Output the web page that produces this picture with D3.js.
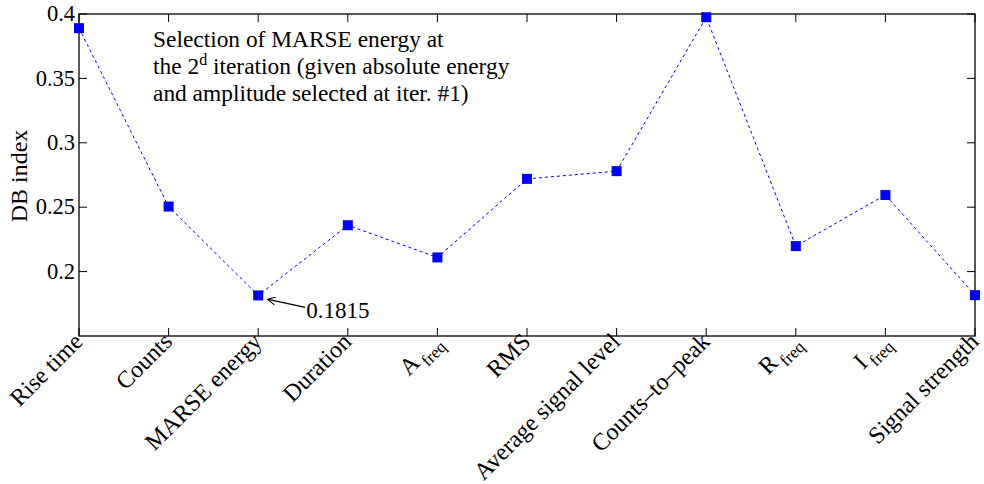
<!DOCTYPE html>
<html>
<head>
<meta charset="utf-8">
<script src="https://cdn.jsdelivr.net/npm/d3@7"></script>
<style>
  body { margin: 0; background: #fff; }
  text { font-family: "Liberation Serif", "Times New Roman", serif; fill: #000; }
</style>
</head>
<body>
<svg id="chart"></svg>
<script>
var width = 984, height = 484;

// feature names (subscript part kept separate)
var features = ['Rise time', 'Counts', 'MARSE energy', 'Duration', 'A', 'RMS',
    'Average signal level', 'Counts\u2013to\u2013peak', 'R', 'I', 'Signal strength'];
var featureSubs = ['', '', '', '', 'freq', '', '', '', 'freq', 'freq', ''];
var dbIndex = [0.389, 0.2505, 0.1815, 0.236, 0.211, 0.272, 0.278, 0.3975, 0.2198, 0.2595, 0.1817];
var yTicks = [0.2, 0.25, 0.3, 0.35, 0.4];

var margin = { left: 79, right: 9, top: 14, bottom: 148 };
var plotW = width - margin.left - margin.right;
var plotH = height - margin.top - margin.bottom;

var svg = d3.select('#chart')
    .attr('width', width)
    .attr('height', height);

var g = svg.append('g')
    .attr('transform', 'translate(' + margin.left + ',' + margin.top + ')');

var x = d3.scalePoint()
    .domain(d3.range(features.length))
    .range([0, plotW]);

var y = d3.scaleLinear()
    .domain([0.15, 0.4])
    .range([plotH, 0]);

// frame
g.append('rect')
    .attr('width', plotW)
    .attr('height', plotH)
    .attr('fill', 'none')
    .attr('stroke', '#000')
    .attr('stroke-width', 1.3);

// inward ticks, mirrored on top / right
var tickLen = 8;
g.append('g').selectAll('line')
    .data(d3.range(features.length))
    .enter().append('line')
    .attr('x1', function (d) { return x(d); })
    .attr('x2', function (d) { return x(d); })
    .attr('y1', plotH)
    .attr('y2', plotH - tickLen)
    .attr('stroke', '#000');
g.append('g').selectAll('line')
    .data(d3.range(features.length))
    .enter().append('line')
    .attr('x1', function (d) { return x(d); })
    .attr('x2', function (d) { return x(d); })
    .attr('y1', 0)
    .attr('y2', tickLen)
    .attr('stroke', '#000');
g.append('g').selectAll('line')
    .data(yTicks)
    .enter().append('line')
    .attr('x1', 0)
    .attr('x2', tickLen)
    .attr('y1', function (d) { return y(d); })
    .attr('y2', function (d) { return y(d); })
    .attr('stroke', '#000');
g.append('g').selectAll('line')
    .data(yTicks)
    .enter().append('line')
    .attr('x1', plotW)
    .attr('x2', plotW - tickLen)
    .attr('y1', function (d) { return y(d); })
    .attr('y2', function (d) { return y(d); })
    .attr('stroke', '#000');

// y tick labels
g.append('g').selectAll('text')
    .data(yTicks)
    .enter().append('text')
    .attr('x', -4)
    .attr('y', function (d) { return y(d); })
    .attr('dy', '0.32em')
    .attr('text-anchor', 'end')
    .style('font-size', '22.5px')
    .text(function (d) { return d3.format('')(d); });

// y axis title
svg.append('text')
    .attr('transform', 'translate(27,' + (margin.top + 162) + ') rotate(-90)')
    .attr('text-anchor', 'middle')
    .style('font-size', '24px')
    .text('DB index');

// x tick labels, rotated
var xl = g.append('g').selectAll('text')
    .data(d3.range(features.length))
    .enter().append('text')
    .attr('transform', function (d) {
        return 'translate(' + (x(d) + 5) + ',' + (plotH + 7) + ') rotate(-45)';
    })
    .attr('text-anchor', 'end')
    .style('font-size', '24px');
xl.append('tspan').text(function (d) { return features[d]; });
xl.append('tspan')
    .attr('dx', 3)
    .attr('dy', 7)
    .style('font-size', '17px')
    .text(function (d) { return featureSubs[d]; });

// dashed line + markers
var line = d3.line()
    .x(function (d, i) { return x(i); })
    .y(function (d) { return y(d); });

g.append('path')
    .datum(dbIndex)
    .attr('d', line)
    .attr('fill', 'none')
    .attr('stroke', '#0000ff')
    .attr('stroke-width', 1)
    .attr('stroke-dasharray', '3,3');

var ms = 10;
g.append('g').selectAll('rect')
    .data(dbIndex)
    .enter().append('rect')
    .attr('x', function (d, i) { return x(i) - ms / 2; })
    .attr('y', function (d) { return y(d) - ms / 2; })
    .attr('width', ms)
    .attr('height', ms)
    .attr('fill', '#0000ff');

// annotation text block
var note = g.append('text')
    .attr('x', 74)
    .style('font-size', '23.4px');
note.append('tspan').attr('x', 74).attr('y', 33).text('Selection of MARSE energy at');
note.append('tspan').attr('x', 74).attr('y', 60).text('the 2');
note.append('tspan').attr('dy', -9).style('font-size', '16px').text('d');
note.append('tspan').attr('dy', 9).text(' iteration (given absolute energy');
note.append('tspan').attr('x', 74).attr('y', 87).text('and amplitude selected at iter. #1)');

// arrow annotation to the minimum
svg.append('defs').append('marker')
    .attr('id', 'arrow')
    .attr('viewBox', '0 0 10 10')
    .attr('refX', 9).attr('refY', 5)
    .attr('markerWidth', 10).attr('markerHeight', 8)
    .attr('markerUnits', 'userSpaceOnUse')
    .attr('orient', 'auto')
    .append('path')
    .attr('d', 'M0,0 L10,5 L0,10')
    .attr('fill', 'none')
    .attr('stroke', '#000')
    .attr('stroke-width', 1.3);

var minIdx = 2;
g.append('line')
    .attr('x1', x(minIdx) + 47)
    .attr('y1', y(dbIndex[minIdx]) + 12)
    .attr('x2', x(minIdx) + 10)
    .attr('y2', y(dbIndex[minIdx]) + 4)
    .attr('stroke', '#000')
    .attr('stroke-width', 1.2)
    .attr('marker-end', 'url(#arrow)');

g.append('text')
    .attr('x', x(minIdx) + 48)
    .attr('y', y(dbIndex[minIdx]) + 23)
    .style('font-size', '23px')
    .text(d3.format('.4f')(dbIndex[minIdx]));
</script>
</body>
</html>
